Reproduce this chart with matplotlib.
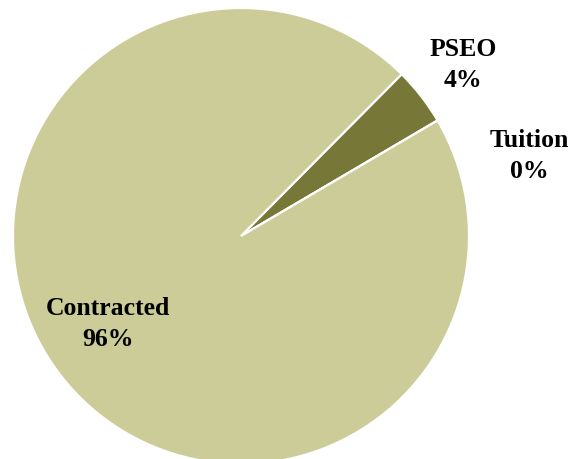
import matplotlib
matplotlib.use("Agg")
import matplotlib.pyplot as plt

categories = ["PSEO", "Tuition", "Contracted"]
values = [4.1, 0.0, 95.9]
pct_labels = ["4%", "0%", "96%"]
colors = ["#777738", "#CCCC99", "#CCCC99"]

fig = plt.figure(figsize=(5.76, 4.6), dpi=100)
ax = fig.add_axes([0, 0, 1, 1])

cx, cy, r = 241, 223, 228
ax.pie(values, colors=colors, startangle=45.2, counterclock=False,
       center=(cx, cy), radius=r, frame=True,
       wedgeprops=dict(edgecolor="white", linewidth=1.6))
ax.set_xlim(0, 576)
ax.set_ylim(0, 460)
ax.set_aspect("equal")
ax.axis("off")

label_pos = {"PSEO": (463, 395), "Tuition": (529, 304), "Contracted": (108, 136)}
for cat, p in zip(categories, pct_labels):
    x, y = label_pos[cat]
    ax.text(x, y, f"{cat}\n{p}", ha="center", va="center",
            fontfamily="Liberation Serif", fontweight="bold", fontsize=18.5,
            linespacing=1.45, color="black")

fig.savefig("out.png", dpi=100)
